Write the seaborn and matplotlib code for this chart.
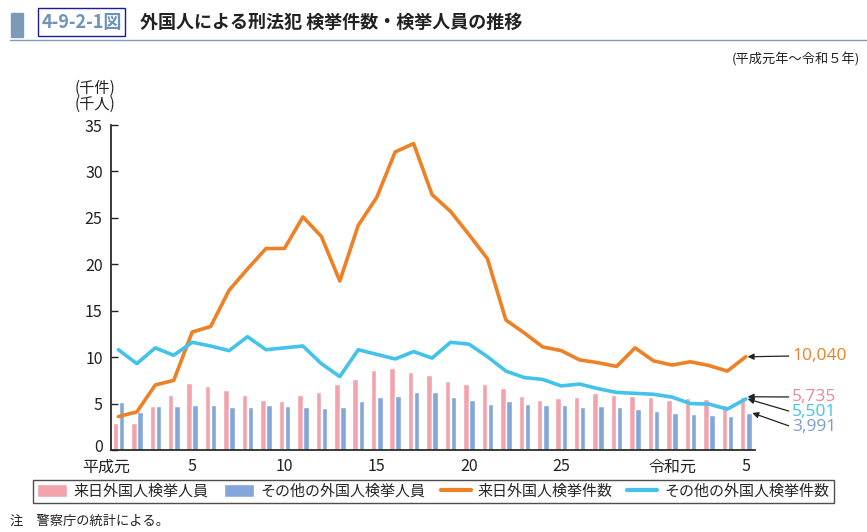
import matplotlib
matplotlib.use("Agg")
import matplotlib.pyplot as plt
import matplotlib.transforms as mtrans
import seaborn as sns
import pandas as pd
from matplotlib.patches import Patch, Rectangle
from matplotlib.lines import Line2D

# 平成元年～令和5年 (35年)
years = list(range(35))
tick_pos = [0, 4, 9, 14, 19, 24, 30, 34]
tick_labels = ["平成元", "5", "10", "15", "20", "25", "令和元", "5"]

# 来日外国人検挙件数 (千件)
rainichi_ken = [3.6, 4.1, 7.0, 7.5, 12.7, 13.3, 17.2, 19.5, 21.7, 21.7,
                25.1, 23.0, 18.2, 24.2, 27.2, 32.1, 33.0, 27.5, 25.7, 23.2,
                20.6, 14.0, 12.6, 11.1, 10.7, 9.7, 9.4, 9.0, 11.0, 9.6,
                9.15, 9.5, 9.1, 8.5, 10.04]
# その他の外国人検挙件数 (千件)
sonota_ken = [10.8, 9.3, 11.0, 10.2, 11.6, 11.2, 10.7, 12.2, 10.8, 11.0,
              11.2, 9.3, 7.9, 10.8, 10.3, 9.8, 10.6, 9.9, 11.6, 11.4,
              10.05, 8.5, 7.8, 7.6, 6.9, 7.1, 6.6, 6.2, 6.1, 6.0,
              5.7, 5.0, 4.95, 4.4, 5.501]
# 来日外国人検挙人員 (千人)
rainichi_jin = [2.87, 2.87, 4.74, 5.9, 7.18, 6.9, 6.46, 5.9, 5.4, 5.3,
                5.9, 6.25, 7.1, 7.65, 8.6, 8.8, 8.4, 8.1, 7.4, 7.1,
                7.1, 6.7, 5.8, 5.4, 5.6, 5.7, 6.1, 5.9, 5.8, 5.7,
                5.4, 5.6, 5.5, 4.9, 5.735]
# その他の外国人検挙人員 (千人)
sonota_jin = [5.13, 4.13, 4.74, 4.74, 4.85, 4.85, 4.6, 4.6, 4.85, 4.74,
              4.6, 4.5, 4.6, 5.3, 5.67, 5.8, 6.2, 6.2, 5.7, 5.4,
              5.0, 5.3, 5.0, 4.9, 4.85, 4.6, 4.74, 4.6, 4.4, 4.2,
              4.0, 3.9, 3.8, 3.66, 3.991]

c_pink = "#F2A3AC"
c_blue = "#83A7DA"
c_orange = "#EE8025"
c_cyan = "#43C2EA"

sns.set_theme(style="ticks")
plt.rcParams["font.family"] = ["Noto Sans CJK JP", "DejaVu Sans"]

bars = pd.DataFrame({
    "year": years * 2,
    "value": rainichi_jin + sonota_jin,
    "kind": ["来日外国人検挙人員"] * 35 + ["その他の外国人検挙人員"] * 35,
})

fig = plt.figure(figsize=(8.67, 5.32), dpi=100)
ax = fig.add_axes([111 / 867, 1 - 450 / 532, 644 / 867, 325 / 532])

sns.barplot(data=bars, x="year", y="value", hue="kind",
            palette=[c_pink, c_blue], width=0.66, gap=0.1,
            saturation=1, legend=False, ax=ax)
sns.lineplot(x=years, y=rainichi_ken, color=c_orange, lw=2.6, ax=ax)
sns.lineplot(x=years, y=sonota_ken, color=c_cyan, lw=2.6, ax=ax)

ax.set_xlim(-0.4, 34.5)
ax.set_ylim(0, 35)
ax.set_yticks(range(0, 36, 5))
ax.set_xticks(tick_pos)
ax.set_xticklabels(tick_labels)
ax.set_xlabel("")
ax.set_ylabel("")
ax.tick_params(axis="y", direction="in", length=5, width=1, labelsize=11.5, pad=6, colors="#222222")
ax.tick_params(axis="x", length=0, labelsize=11.5, pad=6, colors="#222222")
sns.despine(ax=ax)
ax.spines["left"].set_color("#222222")
ax.spines["bottom"].set_color("#222222")

# 0 のラベルは少し上に
ylab0 = ax.get_yticklabels()[0]
ylab0.set_transform(ylab0.get_transform() + mtrans.ScaledTranslation(0, 5 / 100, fig.dpi_scale_trans))
# 平成元 は少し左に
xlab0 = ax.get_xticklabels()[0]
xlab0.set_transform(xlab0.get_transform() + mtrans.ScaledTranslation(-12 / 100, 0, fig.dpi_scale_trans))

# 右端の数値ラベル
ann = [
    ("10,040", rainichi_ken[-1], 356, c_orange),
    ("5,735", rainichi_jin[-1], 397, "#E8889A"),
    ("5,501", sonota_ken[-1], 412, c_cyan),
    ("3,991", sonota_jin[-1], 427, "#7A9AD0"),
]
for i, (txt, val, ypix, col) in enumerate(ann):
    xoff = 34.35 if i == 3 else 34.1
    ax.annotate(txt, xy=(xoff, val), xycoords="data",
                xytext=(792 / 867, 1 - ypix / 532), textcoords="figure fraction",
                color=col, fontsize=12.5, family="Open Sans", va="center", ha="left",
                arrowprops=dict(arrowstyle="-|>", color="#222222", lw=0.9,
                                mutation_scale=9, shrinkA=0, shrinkB=0,
                                relpos=(0, 0.5)))

# 見出し
fig.patches.append(Rectangle((11 / 867, 1 - 37 / 532), 12 / 867, 24 / 532,
                             transform=fig.transFigure, color="#7C9AB6"))
fig.patches.append(Rectangle((38 / 867, 1 - 36 / 532), 87 / 867, 28 / 532,
                             transform=fig.transFigure, fill=False,
                             edgecolor="#1C1C9A", lw=1))
fig.text(42 / 867, 1 - 22 / 532, "4-9-2-1図", fontsize=13, fontweight="bold",
         color="#6E93B8", va="center")
fig.text(140 / 867, 1 - 22 / 532, "外国人による刑法犯 検挙件数・検挙人員の推移",
         fontsize=13, fontweight="bold", color="#222222", va="center")
fig.add_artist(Line2D([10 / 867, 1], [1 - 40 / 532] * 2, transform=fig.transFigure,
                      color="#7F9DB5", lw=1))
fig.text(860 / 867, 1 - 60 / 532, "(平成元年～令和５年)", fontsize=9.5,
         ha="right", va="center", color="#222222")
fig.text(95 / 867, 1 - 88 / 532, "(千件)", fontsize=11, ha="center", va="center", color="#222222")
fig.text(95 / 867, 1 - 104 / 532, "(千人)", fontsize=11, ha="center", va="center", color="#222222")
fig.text(10 / 867, 1 - 521 / 532, "注　警察庁の統計による。", fontsize=9.5,
         va="center", color="#222222")

handles = [
    Patch(facecolor=c_pink, label="来日外国人検挙人員"),
    Patch(facecolor=c_blue, label="その他の外国人検挙人員"),
    Line2D([], [], color=c_orange, lw=3, label="来日外国人検挙件数"),
    Line2D([], [], color=c_cyan, lw=3, label="その他の外国人検挙件数"),
]
leg = fig.legend(handles=handles, loc="center", ncol=4,
                 bbox_to_anchor=(433 / 867, 1 - 491.5 / 532),
                 fontsize=10.8, frameon=True, fancybox=False, borderpad=0.3,
                 handlelength=2.0, handleheight=0.9, handletextpad=0.45,
                 columnspacing=1.0, borderaxespad=0)
leg.get_frame().set_edgecolor("#222222")
leg.get_frame().set_linewidth(1)

fig.savefig("out.png", dpi=100)
